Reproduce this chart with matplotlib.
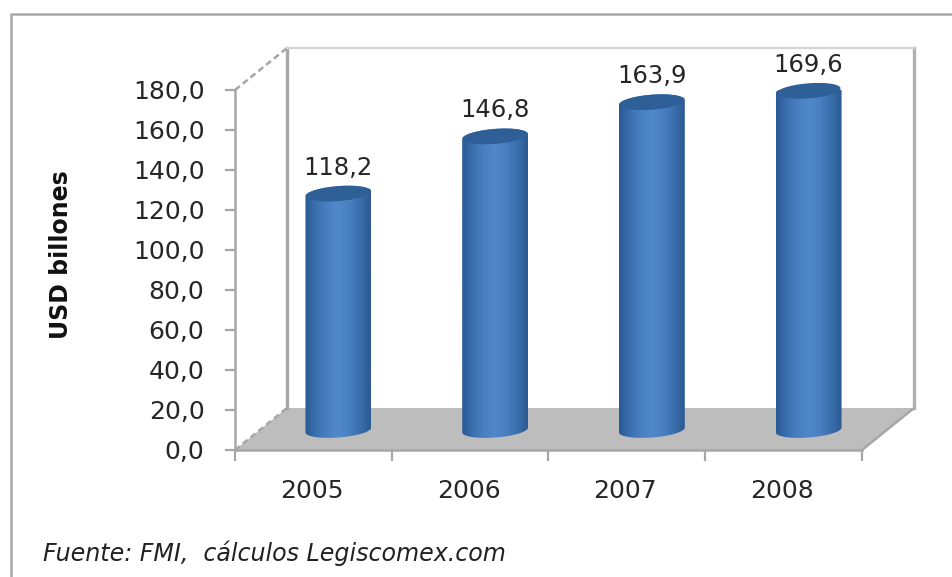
import numpy as np
import matplotlib
matplotlib.use("Agg")
import matplotlib.pyplot as plt
from matplotlib.colors import LinearSegmentedColormap
from matplotlib.lines import Line2D
from matplotlib.patches import PathPatch, Polygon
from matplotlib.path import Path
from matplotlib.transforms import Affine2D, IdentityTransform

# Values
years = ["2005", "2006", "2007", "2008"]
values = [118.2, 146.8, 163.9, 169.6]
value_labels = ["118,2", "146,8", "163,9", "169,6"]
y_ticks = [0, 20, 40, 60, 80, 100, 120, 140, 160, 180]
y_labels = ["0,0", "20,0", "40,0", "60,0", "80,0", "100,0", "120,0", "140,0", "160,0", "180,0"]

W, H = 953, 577
GREY = "#a6a6a6"
TEXT = "#262626"

plt.rcParams["font.family"] = "DejaVu Sans"
fig = plt.figure(figsize=(W / 100, H / 100), dpi=100)
ax = fig.add_axes([235 / W, (H - 450) / H, 627 / W, 360 / H])
ax.patch.set_visible(False)
ax.set_zorder(2)
n = len(years)
ax.set_xlim(0, n)
ax.set_ylim(0, 180)

# fake 3D: shift things back by some pixels
back = ax.transData + Affine2D().translate(52, 42)
mid = ax.transData + Affine2D().translate(25, 20)

# floor and walls
pts_front = ax.transData.transform([[0, 0], [n, 0]])
pts_back = back.transform([[n, 0], [0, 0]])
floor = Polygon(np.vstack([pts_front, pts_back]), closed=True, color="#bdbdbd", lw=0,
                transform=IdentityTransform(), zorder=1)
fig.add_artist(floor)

ax.plot([0, 0], [0, 180], color=GREY, lw=2.4, transform=back, clip_on=False, zorder=1)
ax.plot([n, n], [0, 180], color="#b0b0b0", lw=2.4, transform=back, clip_on=False, zorder=1)
ax.plot([0, n], [180, 180], color="#d4d4d4", lw=1.6, transform=back, clip_on=False, zorder=1)

# diagonals between front and back planes
for xv, yv, ls in [(0, 180, (0, (2.5, 1.5))), (0, 0, (0, (2.5, 1.5))), (n, 0, "-")]:
    a = ax.transData.transform((xv, yv))
    b = back.transform((xv, yv))
    fig.add_artist(Line2D([a[0] / W, b[0] / W], [a[1] / H, b[1] / H], color=GREY, lw=1.8, ls=ls, zorder=1.5))

# cylinders
cmap = LinearSegmentedColormap.from_list(
    "cyl", ["#2b5a94", "#3b70b0", "#4a80c2", "#5088ca", "#4a80c2", "#3b70ae", "#2c5a92"])
half_w = 0.21
half_h = 3.75
tilt = 1.2

for i, v in enumerate(values):
    cx = i + 0.5
    t1 = np.linspace(np.pi, 2 * np.pi, 40)
    t2 = np.linspace(0, np.pi, 40)
    xs = np.r_[cx + half_w * np.cos(t1), cx + half_w * np.cos(t2)]
    ys = np.r_[half_h * np.sin(t1) + tilt * np.cos(t1), v + half_h * np.sin(t2) + tilt * np.cos(t2)]
    body = PathPatch(Path(np.c_[xs, ys]), transform=mid, fc="none", ec="none")
    ax.add_patch(body)
    im = ax.imshow(np.linspace(0, 1, 64)[None, :], cmap=cmap, aspect="auto", zorder=3,
                   extent=[cx - half_w, cx + half_w, -10, v + 10], transform=mid)
    im.set_clip_path(body)
    t = np.linspace(0, 2 * np.pi, 80)
    ax.fill(cx + half_w * 0.97 * np.cos(t), v + half_h * np.sin(t) + tilt * np.cos(t),
            color="#2e5f97", lw=0, transform=mid, zorder=4, clip_on=False)
    ax.text(cx, v + 7, value_labels[i], transform=mid, ha="center", va="bottom",
            fontsize=17.5, color=TEXT, zorder=5)

ax.set_xlim(0, n)
ax.set_ylim(0, 180)
ax.set_yticks(y_ticks)
ax.set_yticklabels(y_labels, fontsize=18, color=TEXT)
ax.set_xticks(range(n + 1))
ax.set_xticklabels([])
ax.set_xticks(np.arange(n) + 0.49, minor=True)
ax.set_xticklabels(years, minor=True, fontsize=18, color=TEXT)
ax.tick_params(axis="y", length=7, width=1.6, color=GREY, pad=15)
ax.tick_params(axis="x", which="major", length=8, width=1.6, color=GREY)
ax.tick_params(axis="x", which="minor", length=0, pad=21)
for s in ["top", "right"]:
    ax.spines[s].set_visible(False)
for s in ["left", "bottom"]:
    ax.spines[s].set_color(GREY)
    ax.spines[s].set_linewidth(1.8)
ax.set_ylabel("USD billones", fontsize=17, fontweight="bold", color="#111111")
ax.yaxis.set_label_coords((73 - 235) / 627, (450 - 255) / 360)

# outer frame and source
fig.add_artist(Line2D([11 / W, 11 / W, 1], [0, (H - 14) / H, (H - 14) / H], color="#a8a8a8", lw=1.8))
fig.text(43 / W, (H - 553) / H, "Fuente: FMI,  cálculos Legiscomex.com", fontsize=17.15,
         style="italic", color="#222222", va="center", ha="left")

fig.savefig("out.png", dpi=100)
